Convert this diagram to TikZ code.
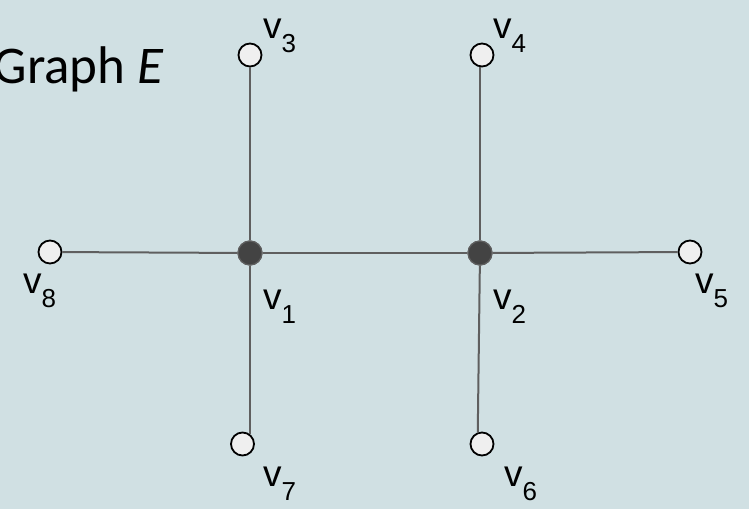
\documentclass[tikz,border=0pt]{standalone}
\usepackage{fontspec}
\newfontfamily\labfont{Liberation Sans}
\newfontfamily\titfont{Carlito}
\definecolor{bgc}{HTML}{D0E0E3}
\definecolor{edgec}{HTML}{5F5F5F}
\definecolor{darkc}{HTML}{434343}
\definecolor{lightc}{HTML}{EFEFEF}
\tikzset{
  hub/.style={circle, fill=darkc, draw=edgec, line width=1.2pt, minimum size=24pt, inner sep=0pt},
  leaf/.style={circle, fill=lightc, draw=black, line width=1.8pt, minimum size=23pt, inner sep=0pt},
  edge/.style={draw=edgec, line width=2pt},
  vlab/.style={anchor=base west, inner sep=0pt, font=\labfont}
}
\newcommand{\vl}[1]{{\fontsize{37}{37}\selectfont v}\raisebox{-14pt}{\fontsize{26}{26}\selectfont #1}}
\begin{document}
\begin{tikzpicture}[x=1pt, y=-1pt]
\fill[bgc] (0,0) rectangle (749,509);
\useasboundingbox (0,0) rectangle (749,509);
% nodes
\node[hub] (v1) at (250,253) {};
\node[hub] (v2) at (480,253) {};
\node[leaf] (v3) at (250,55) {};
\node[leaf] (v4) at (482,55) {};
\node[leaf] (v5) at (690,252) {};
\node[leaf] (v6) at (482,444) {};
\node[leaf] (v7) at (242.5,444) {};
\node[leaf] (v8) at (50,252) {};
% edges
\draw[edge] (v8) -- (v1);
\draw[edge] (v1) -- (v2);
\draw[edge] (v2) -- (v5);
\draw[edge] (v1) -- (v3);
\draw[edge] (v2) -- (v2 |- v4.south);
\draw[edge] (v1) -- (v1 |- v7.51);
\draw[edge] (v2) -- (v6.110);
% redraw hubs on top
\node[hub] at (v1) {};
\node[hub] at (v2) {};
% labels
\node[vlab] (l3) at (263,38) {\vl{3}};
\node[vlab] (l4) at (493,38) {\vl{4}};
\node[vlab] (l8) at (23,293) {\vl{8}};
\node[vlab] (l5) at (695,293) {\vl{5}};
\node[vlab] (l1) at (263,309) {\vl{1}};
\node[vlab] (l2) at (493,309) {\vl{2}};
\node[vlab] (l7) at (263,486) {\vl{7}};
\node[vlab] (l6) at (504,486) {\vl{6}};
% title
\node[anchor=base east, inner sep=0pt, font=\titfont] (title) at (164,83) {\fontsize{53}{53}\selectfont Graph \textit{E}};
\end{tikzpicture}
\end{document}
